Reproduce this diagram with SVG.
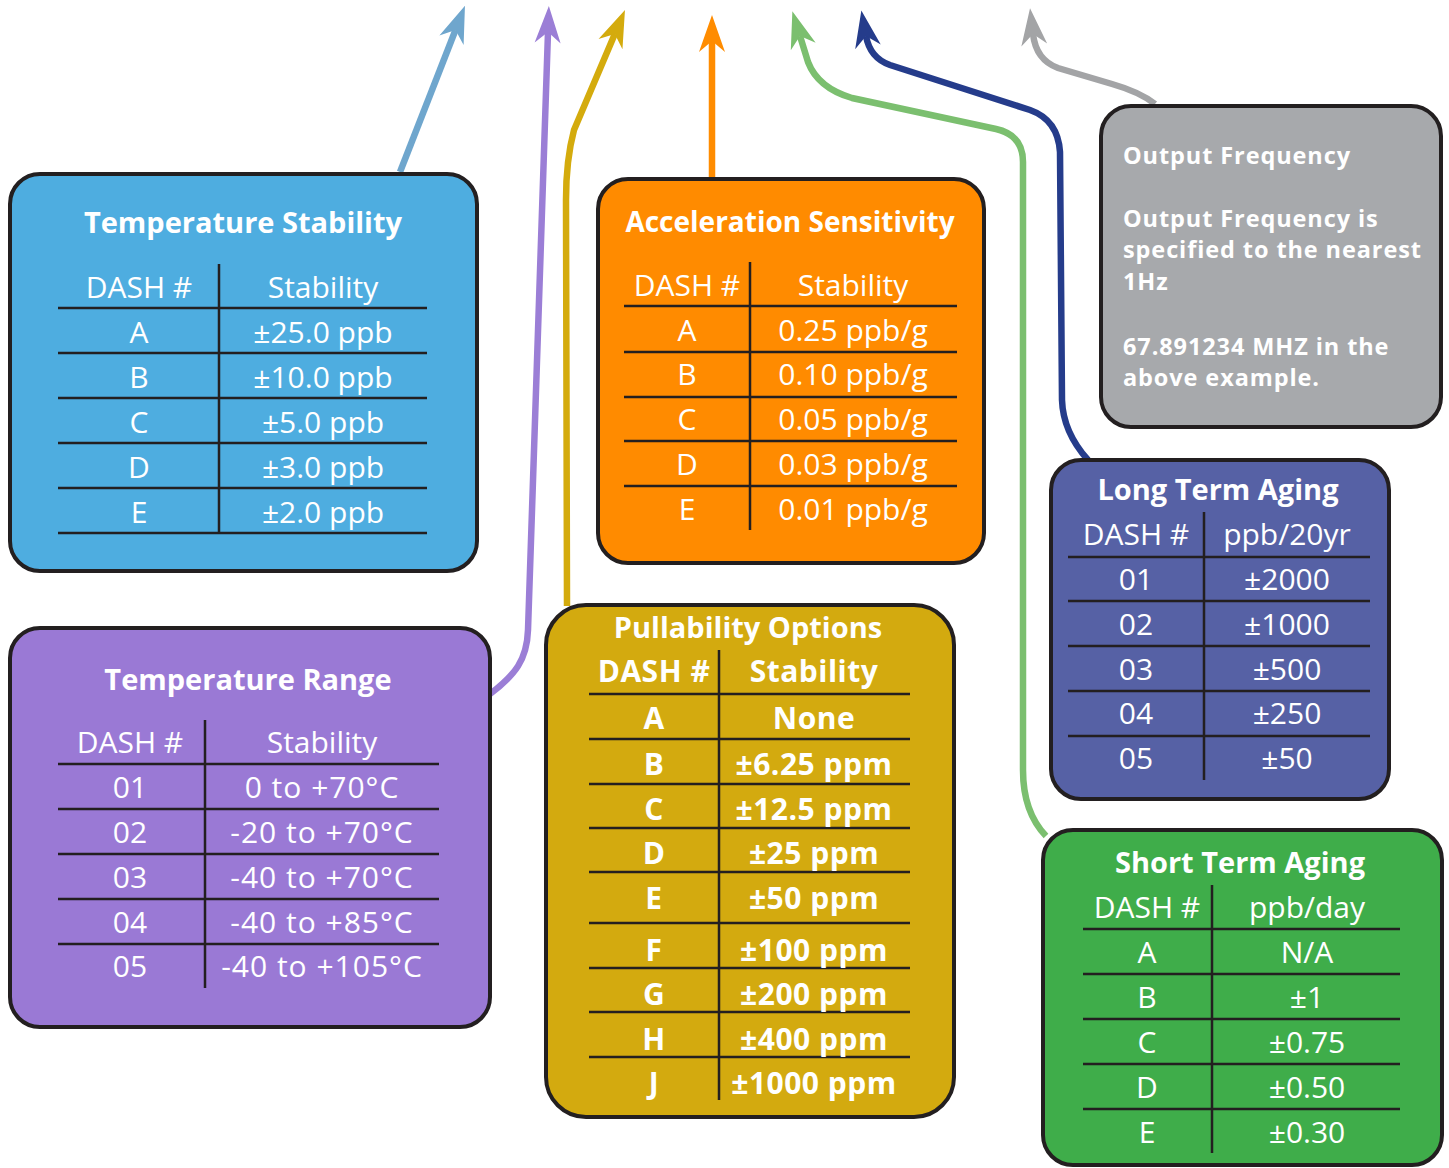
<svg xmlns="http://www.w3.org/2000/svg" width="1449" height="1168" viewBox="0 0 1449 1168">
<style>
.box{stroke:#231f20;stroke-width:4}
.ttl{font-family:"Open Sans","DejaVu Sans",sans-serif;font-weight:bold;font-size:29px;fill:#fff;text-anchor:middle}
.c{font-family:"Open Sans","DejaVu Sans",sans-serif;font-size:30px;fill:#fff;text-anchor:middle}
.cb{font-family:"Open Sans","DejaVu Sans",sans-serif;font-weight:bold;font-size:30px;fill:#fff;text-anchor:middle;letter-spacing:0.5px}
.g{font-family:"Open Sans","DejaVu Sans",sans-serif;font-weight:bold;font-size:23.5px;fill:#fff;letter-spacing:0.9px}
.rl{stroke:#231f20;stroke-width:2.5;fill:none}
.cn{fill:none;stroke-width:6.5}
</style>
<defs>
<marker id="mBlue" markerUnits="userSpaceOnUse" viewBox="-12 -14 40 28" refX="0" refY="0" markerWidth="40" markerHeight="28" orient="auto"><path d="M26 0 L-11 -13 L0 0 L-11 13 Z" fill="#6fa6cd"/></marker>
<marker id="mPurple" markerUnits="userSpaceOnUse" viewBox="-12 -14 40 28" refX="0" refY="0" markerWidth="40" markerHeight="28" orient="auto"><path d="M26 0 L-11 -13 L0 0 L-11 13 Z" fill="#9b7ed6"/></marker>
<marker id="mGold" markerUnits="userSpaceOnUse" viewBox="-12 -14 40 28" refX="0" refY="0" markerWidth="40" markerHeight="28" orient="auto"><path d="M26 0 L-11 -13 L0 0 L-11 13 Z" fill="#d4ab0d"/></marker>
<marker id="mOrange" markerUnits="userSpaceOnUse" viewBox="-12 -14 40 28" refX="0" refY="0" markerWidth="40" markerHeight="28" orient="auto"><path d="M26 0 L-11 -13 L0 0 L-11 13 Z" fill="#ff8c00"/></marker>
<marker id="mGreen" markerUnits="userSpaceOnUse" viewBox="-12 -14 40 28" refX="0" refY="0" markerWidth="40" markerHeight="28" orient="auto"><path d="M26 0 L-11 -13 L0 0 L-11 13 Z" fill="#7bbf6f"/></marker>
<marker id="mNavy" markerUnits="userSpaceOnUse" viewBox="-12 -14 40 28" refX="0" refY="0" markerWidth="40" markerHeight="28" orient="auto"><path d="M26 0 L-11 -13 L0 0 L-11 13 Z" fill="#253c8b"/></marker>
<marker id="mGray" markerUnits="userSpaceOnUse" viewBox="-12 -14 40 28" refX="0" refY="0" markerWidth="40" markerHeight="28" orient="auto"><path d="M26 0 L-11 -13 L0 0 L-11 13 Z" fill="#a3a4a6"/></marker>
</defs>
<rect width="1449" height="1168" fill="#fff"/>

<g id="connectors">
<path class="cn" stroke="#6fa6cd" d="M400 172 L455.5 30" marker-end="url(#mBlue)"/>
<path class="cn" stroke="#9b7ed6" d="M490 694 C515 675 527 660 528 630 L548 32" marker-end="url(#mPurple)"/>
<path class="cn" stroke="#d4ab0d" d="M567 606 L566 200 Q566 160 574 130 L614.8 34" marker-end="url(#mGold)"/>
<path class="cn" stroke="#ff8c00" d="M712 178 L712 41" marker-end="url(#mOrange)"/>
<path class="cn" stroke="#7bbf6f" d="M1046 836 Q1023 812 1023 770 L1023 162 Q1023 135 996 129 L852 98 Q818 88 808 62 L800 36" marker-end="url(#mGreen)"/>
<path class="cn" stroke="#253c8b" d="M1088 460 Q1063 432 1062 400 L1060 152 Q1058 120 1030 110 L890 65 Q870 58 866 36" marker-end="url(#mNavy)"/>
<path class="cn" stroke="#a3a4a6" d="M1155 104 Q1140 92 1112 84 L1058 68 Q1036 60 1033 34" marker-end="url(#mGray)"/>
</g>

<g id="temperature-stability">
<rect class="box" x="10" y="174" width="467" height="397" rx="30" fill="#4eade0"/>
<text class="ttl" x="243" y="233">Temperature Stability</text>
<path class="rl" d="M219 264 V533 M58 308 H427 M58 353 H427 M58 398 H427 M58 443 H427 M58 488 H427 M58 533 H427"/>
<text class="c" x="139" y="298">DASH #</text><text class="c" x="323" y="298">Stability</text>
<text class="c" x="139" y="343">A</text><text class="c" x="323" y="343">±25.0 ppb</text>
<text class="c" x="139" y="388">B</text><text class="c" x="323" y="388">±10.0 ppb</text>
<text class="c" x="139" y="433">C</text><text class="c" x="323" y="433">±5.0 ppb</text>
<text class="c" x="139" y="478">D</text><text class="c" x="323" y="478">±3.0 ppb</text>
<text class="c" x="139" y="523">E</text><text class="c" x="323" y="523">±2.0 ppb</text>
</g>

<g id="acceleration-sensitivity">
<rect class="box" x="598" y="179" width="386" height="384" rx="30" fill="#ff8b00"/>
<text class="ttl" x="790" y="232" style="font-size:28px">Acceleration Sensitivity</text>
<path class="rl" d="M750 262 V530 M624 306 H957 M624 352 H957 M624 397 H957 M624 441 H957 M624 486 H957"/>
<text class="c" x="687" y="296">DASH #</text><text class="c" x="853" y="296">Stability</text>
<text class="c" x="687" y="341">A</text><text class="c" x="853" y="341">0.25 ppb/g</text>
<text class="c" x="687" y="385">B</text><text class="c" x="853" y="385">0.10 ppb/g</text>
<text class="c" x="687" y="430">C</text><text class="c" x="853" y="430">0.05 ppb/g</text>
<text class="c" x="687" y="475">D</text><text class="c" x="853" y="475">0.03 ppb/g</text>
<text class="c" x="687" y="520">E</text><text class="c" x="853" y="520">0.01 ppb/g</text>
</g>

<g id="output-frequency">
<rect class="box" x="1101" y="106" width="340" height="321" rx="30" fill="#a7a9ac"/>
<text class="g" x="1123" y="164">Output Frequency</text>
<text class="g" x="1123" y="227">Output Frequency is</text>
<text class="g" x="1123" y="258">specified to the nearest</text>
<text class="g" x="1123" y="290">1Hz</text>
<text class="g" x="1123" y="355">67.891234 MHZ in the</text>
<text class="g" x="1123" y="386">above example.</text>
</g>

<g id="long-term-aging">
<rect class="box" x="1051" y="460" width="338" height="339" rx="30" fill="#5661a5"/>
<text class="ttl" x="1218" y="500">Long Term Aging</text>
<path class="rl" d="M1204 512 V780 M1068 557 H1370 M1068 601 H1370 M1068 646 H1370 M1068 691 H1370 M1068 736 H1370"/>
<text class="c" x="1136" y="545">DASH #</text><text class="c" x="1287" y="545">ppb/20yr</text>
<text class="c" x="1136" y="590">01</text><text class="c" x="1287" y="590">±2000</text>
<text class="c" x="1136" y="635">02</text><text class="c" x="1287" y="635">±1000</text>
<text class="c" x="1136" y="680">03</text><text class="c" x="1287" y="680">±500</text>
<text class="c" x="1136" y="724">04</text><text class="c" x="1287" y="724">±250</text>
<text class="c" x="1136" y="769">05</text><text class="c" x="1287" y="769">±50</text>
</g>

<g id="short-term-aging">
<rect class="box" x="1043" y="830" width="399" height="335" rx="30" fill="#3fad4a"/>
<text class="ttl" x="1240" y="873">Short Term Aging</text>
<path class="rl" d="M1212 885 V1153 M1083 929 H1400 M1083 974 H1400 M1083 1019 H1400 M1083 1064 H1400 M1083 1109 H1400"/>
<text class="c" x="1147" y="918">DASH #</text><text class="c" x="1307" y="918">ppb/day</text>
<text class="c" x="1147" y="963">A</text><text class="c" x="1307" y="963">N/A</text>
<text class="c" x="1147" y="1008">B</text><text class="c" x="1307" y="1008">±1</text>
<text class="c" x="1147" y="1053">C</text><text class="c" x="1307" y="1053">±0.75</text>
<text class="c" x="1147" y="1098">D</text><text class="c" x="1307" y="1098">±0.50</text>
<text class="c" x="1147" y="1143">E</text><text class="c" x="1307" y="1143">±0.30</text>
</g>

<g id="temperature-range">
<rect class="box" x="10" y="628" width="480" height="399" rx="30" fill="#9a79d5"/>
<text class="ttl" x="248" y="690">Temperature Range</text>
<path class="rl" d="M205 720 V988 M58 764 H439 M58 809 H439 M58 854 H439 M58 899 H439 M58 944 H439"/>
<text class="c" x="130" y="753">DASH #</text><text class="c" x="322" y="753">Stability</text>
<text class="c" x="130" y="798">01</text><text class="c" x="322" y="798" letter-spacing="1">0 to +70°C</text>
<text class="c" x="130" y="843">02</text><text class="c" x="322" y="843" letter-spacing="1">-20 to +70°C</text>
<text class="c" x="130" y="888">03</text><text class="c" x="322" y="888" letter-spacing="1">-40 to +70°C</text>
<text class="c" x="130" y="933">04</text><text class="c" x="322" y="933" letter-spacing="1">-40 to +85°C</text>
<text class="c" x="130" y="977">05</text><text class="c" x="322" y="977" letter-spacing="1">-40 to +105°C</text>
</g>

<g id="pullability-options">
<rect class="box" x="546" y="605" width="408" height="512" rx="40" fill="#d3aa0f"/>
<text class="ttl" x="748" y="638">Pullability Options</text>
<path class="rl" d="M719 650 V1100 M589 694 H910 M589 739 H910 M589 784 H910 M589 828 H910 M589 872 H910 M589 923 H910 M589 968 H910 M589 1012 H910 M589 1057 H910"/>
<text class="cb" x="654" y="682">DASH #</text><text class="cb" x="814" y="682">Stability</text>
<text class="cb" x="654" y="729">A</text><text class="cb" x="814" y="729">None</text>
<text class="cb" x="654" y="775">B</text><text class="cb" x="814" y="775">±6.25 ppm</text>
<text class="cb" x="654" y="820">C</text><text class="cb" x="814" y="820">±12.5 ppm</text>
<text class="cb" x="654" y="864">D</text><text class="cb" x="814" y="864">±25 ppm</text>
<text class="cb" x="654" y="909">E</text><text class="cb" x="814" y="909">±50 ppm</text>
<text class="cb" x="654" y="961">F</text><text class="cb" x="814" y="961">±100 ppm</text>
<text class="cb" x="654" y="1005">G</text><text class="cb" x="814" y="1005">±200 ppm</text>
<text class="cb" x="654" y="1050">H</text><text class="cb" x="814" y="1050">±400 ppm</text>
<text class="cb" x="654" y="1094">J</text><text class="cb" x="814" y="1094">±1000 ppm</text>
</g>
</svg>
